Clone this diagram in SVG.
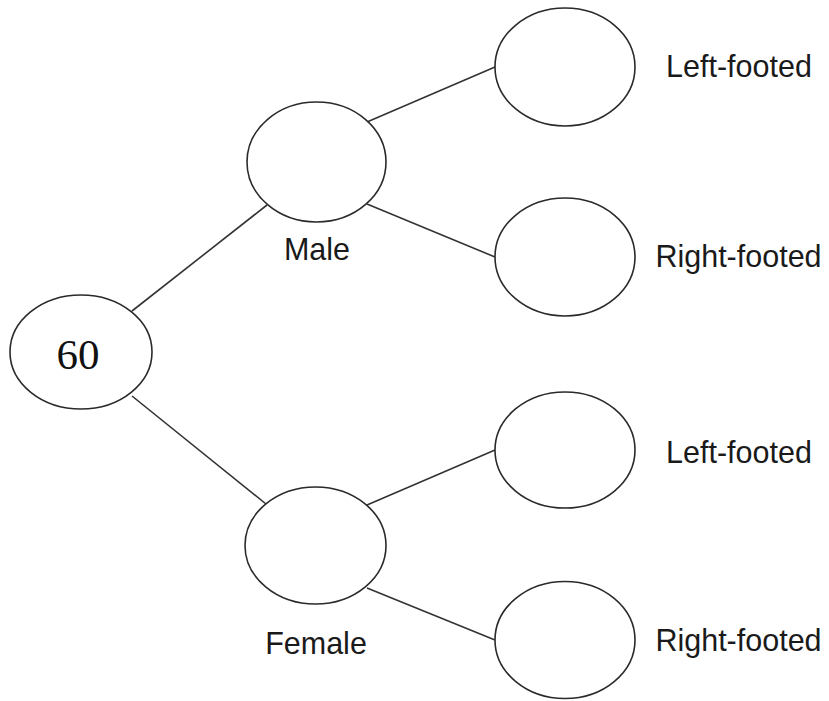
<svg xmlns="http://www.w3.org/2000/svg" width="829" height="701" viewBox="0 0 829 701">
<style>
.n{fill:#fff;stroke:#2a2a2a;stroke-width:1.6}
.c line{stroke:#333;stroke-width:1.6}
.t{font-family:"Liberation Sans",Arial,sans-serif;font-size:30.5px;fill:#1a1a1a;text-anchor:middle}
.s{font-family:"Liberation Serif","Times New Roman",serif;font-size:43px;fill:#111;text-anchor:middle}
</style>
<rect width="829" height="701" fill="#fff"/>
<g id="connectors" class="c">
<line x1="132" y1="311" x2="267" y2="205"/>
<line x1="132" y1="396" x2="266" y2="504"/>
<line x1="367" y1="122" x2="495" y2="67"/>
<line x1="367" y1="204" x2="495" y2="257"/>
<line x1="367" y1="505" x2="495" y2="450"/>
<line x1="367" y1="588" x2="495" y2="640"/>
</g>
<g id="root"><ellipse class="n" cx="81" cy="352" rx="71" ry="57"/><text class="s" x="78" y="369">60</text></g>
<g id="male"><ellipse class="n" cx="316.5" cy="162" rx="69.5" ry="60"/><text class="t" x="317" y="260">Male</text></g>
<g id="female"><ellipse class="n" cx="315.5" cy="545.5" rx="70.5" ry="58.5"/><text class="t" x="316" y="654">Female</text></g>
<g id="male-left"><ellipse class="n" cx="565" cy="67" rx="70" ry="59"/><text class="t" x="739" y="77">Left-footed</text></g>
<g id="male-right"><ellipse class="n" cx="565" cy="257" rx="70" ry="59"/><text class="t" x="738.5" y="267">Right-footed</text></g>
<g id="female-left"><ellipse class="n" cx="565" cy="450" rx="70" ry="58"/><text class="t" x="739" y="463">Left-footed</text></g>
<g id="female-right"><ellipse class="n" cx="565" cy="640" rx="70" ry="58.5"/><text class="t" x="738.5" y="651">Right-footed</text></g>
</svg>
